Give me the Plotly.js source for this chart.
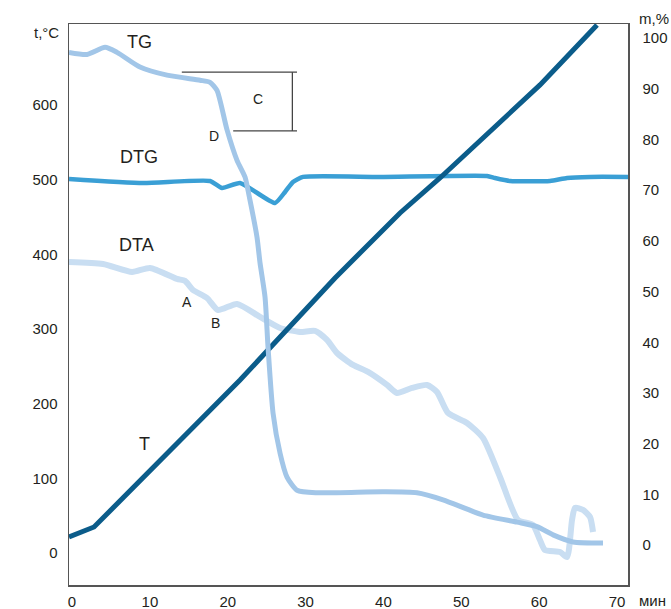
<!DOCTYPE html>
<html>
<head>
<meta charset="utf-8">
<script src="https://cdn.plot.ly/plotly-3.0.1.min.js"></script>
<style>html,body{margin:0;padding:0;background:#fff;}#chart{width:671px;height:609px;}</style>
</head>
<body>
<div id="chart"></div>
<script>
// time, min
const tT   = [-0.39, 2.83, 21.58, 33.78, 42.13, 47.26, 60.11, 67.43];
const valT = [21.4, 34.8, 231.7, 368.3, 455.3, 502.2, 626.8, 707.1];

const tTG   = [-0.39, 1.93, 4.24, 5.78, 8.73, 12.2, 16.44, 17.72, 18.62, 19.91, 21.19, 22.22, 22.86, 23.76, 24.15, 24.79, 25.17, 25.82, 26.72, 27.61, 28.9, 31.47, 39.94, 44.31, 47.65, 52.79, 57.15, 59.72, 61.78, 64.35, 68.2];
const valTG = [97.2, 96.8, 98.2, 97.2, 94.3, 92.7, 91.7, 91.3, 89.7, 81.9, 75.9, 72.6, 68.0, 60.7, 55.6, 48.9, 39.1, 26.0, 18.1, 13.4, 10.8, 10.3, 10.5, 10.3, 8.9, 5.9, 4.5, 3.6, 2.0, 0.6, 0.4];

const tDTG   = [-0.39, 9.12, 17.72, 19.27, 21.58, 26.07, 27.36, 28.38, 29.67, 39.56, 53.3, 54.33, 56.26, 61.39, 63.58, 66.53, 71.41];
const valDTG = [500.9, 495.5, 498.2, 488.8, 495.5, 468.7, 483.5, 496.9, 503.6, 503.6, 504.9, 502.2, 498.2, 498.2, 502.2, 503.6, 503.6];

const tDTA   = [-0.39, 3.98, 7.71, 10.02, 13.49, 14.51, 15.54, 17.34, 18.75, 21.19, 24.15, 26.72, 29.28, 31.21, 32.75, 34.04, 36.09, 38.02, 40.46, 41.74, 43.67, 45.6, 46.88, 48.29, 50.73, 52.79, 54.97, 57.28, 59.2, 60.1, 60.74, 62.68, 63.58, 64.22, 64.6, 65.63, 66.53, 66.92];
const valDTA = [389.7, 387.0, 376.3, 381.7, 367.0, 364.3, 352.2, 341.5, 325.4, 333.5, 316.1, 301.3, 296.0, 297.3, 285.3, 267.8, 251.8, 242.4, 225.0, 214.3, 221.0, 225.0, 215.6, 187.5, 174.1, 154.0, 101.8, 44.2, 37.5, 17.4, 4.0, 1.3, -5.4, 44.2, 60.3, 57.6, 48.2, 28.1];

const xTicks  = [0, 10, 20, 30, 40, 50, 60, 70];
const yTicks  = [0, 100, 200, 300, 400, 500, 600];
const y2Ticks = [0, 10, 20, 30, 40, 50, 60, 70, 80, 90, 100];

const FONT = 'Liberation Sans, Arial, Helvetica, sans-serif';
const TXT = '#231f20';

const traces = [
  {x: tDTA, y: valDTA, mode: 'lines', line: {color: '#c9def2', width: 6, shape: 'spline', smoothing: 0.6}, yaxis: 'y', hoverinfo: 'skip'},
  {x: tTG, y: valTG, mode: 'lines', line: {color: '#a2c6e8', width: 5, shape: 'spline', smoothing: 0.6}, yaxis: 'y2', hoverinfo: 'skip'},
  {x: tDTG, y: valDTG, mode: 'lines', line: {color: '#3a9fd5', width: 4.5, shape: 'spline', smoothing: 0.5}, yaxis: 'y', hoverinfo: 'skip'},
  {x: tT, y: valT, mode: 'lines', line: {color: '#0b5c8a', width: 5}, yaxis: 'y', hoverinfo: 'skip'}
];

function lab(text, px, py, size) {
  return {text: text, xref: 'paper', yref: 'paper',
    x: (px - 69) / 559, y: (585 - py) / 561, xanchor: 'center', yanchor: 'middle',
    showarrow: false, font: {family: FONT, size: size, color: TXT}};
}

const layout = {
  width: 671, height: 609,
  margin: {l: 69, r: 43, t: 24, b: 24},
  paper_bgcolor: '#fff', plot_bgcolor: '#fff',
  showlegend: false,
  font: {family: FONT, size: 15, color: TXT},
  xaxis: {range: [-0.39, 71.41], tickvals: xTicks, showgrid: false, zeroline: false,
    showline: true, mirror: true, linecolor: '#555', linewidth: 1.5, ticks: '', ticklabelstandoff: 2},
  yaxis: {range: [-42.9, 708.4], tickvals: yTicks, showgrid: false, zeroline: false,
    showline: true, linecolor: '#555', linewidth: 1.5, ticks: '', ticklabelstandoff: 7},
  yaxis2: {range: [-7.9, 102.8], tickvals: y2Ticks, overlaying: 'y', side: 'right', showgrid: false, zeroline: false,
    showline: true, linecolor: '#555', linewidth: 1.5, ticks: '', ticklabelstandoff: 10},
  shapes: [
    {type: 'line', xref: 'x', yref: 'y2', x0: 14.1, x1: 28.9, y0: 93.3, y1: 93.3, line: {color: '#444', width: 1.3}},
    {type: 'line', xref: 'x', yref: 'y2', x0: 20.7, x1: 28.9, y0: 81.7, y1: 81.7, line: {color: '#444', width: 1.3}},
    {type: 'line', xref: 'x', yref: 'y2', x0: 28.3, x1: 28.3, y0: 81.7, y1: 93.3, line: {color: '#444', width: 1.3}}
  ],
  annotations: [
    lab('TG', 139, 42, 18),
    lab('DTG', 139, 157, 18),
    lab('DTA', 136, 245, 18),
    lab('T', 144, 444, 18),
    lab('A', 187, 302, 14),
    lab('B', 215, 323, 14),
    lab('C', 258, 99, 14),
    lab('D', 214, 136, 14),
    lab('t,°C', 46, 33, 15),
    lab('m,%', 654, 19, 15),
    lab('мин', 652, 600, 15)
  ]
};

Plotly.newPlot('chart', traces, layout, {staticPlot: true, displayModeBar: false});
</script>
</body>
</html>
